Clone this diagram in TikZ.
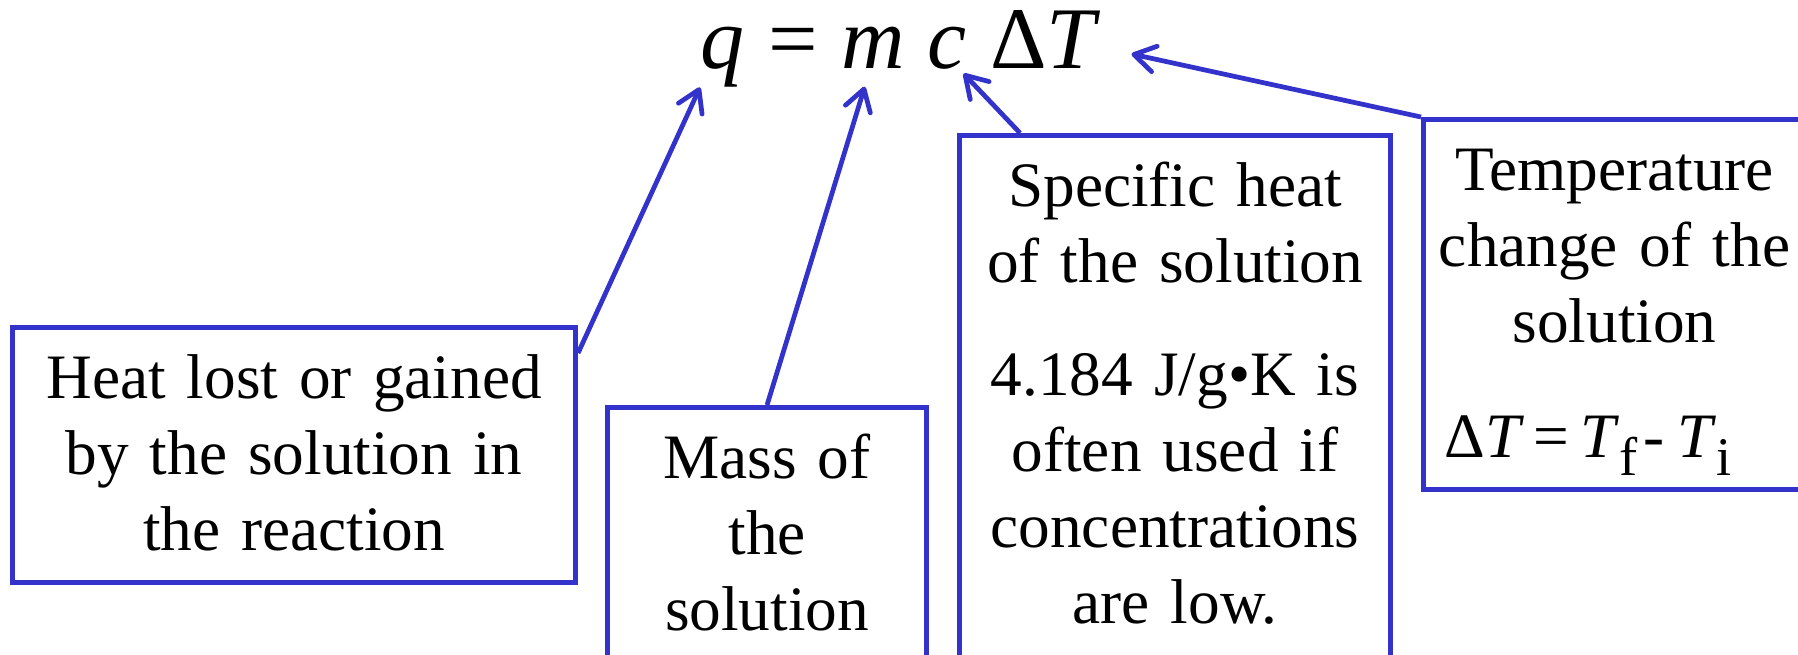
\documentclass[tikz,border=0pt]{standalone}
\usepackage{fontspec}
\setmainfont{Liberation Serif}
\usepackage{tikz}
\usetikzlibrary{positioning, arrows.meta}
\definecolor{calBlue}{HTML}{3333CC}
\newcommand{\lowsub}[1]{\raisebox{-0.28em}{\fontsize{15.5}{15.5}\selectfont #1}}

\begin{document}
\begin{tikzpicture}[node distance=2.2mm]
    \tikzset{box/.style={draw=calBlue,line width=1.45pt,inner sep=0pt,align=center,text height=7.1mm,font=\fontsize{18}{21.6}\selectfont}, eqn/.style={inner sep=0pt,font=\fontsize{25}{30}\selectfont}, pointer/.style={draw=calBlue,line width=1.35pt,-{Straight Barb[length=2.1mm,width=2.6mm,round]}}}
    \useasboundingbox (0,0) rectangle (17.98,6.54);
    \node[eqn,anchor=base west] (q) at (7.00,5.86) {\textit{q}};
    \node[eqn,base right=of q] (eq) {=};
    \node[eqn,base right=of eq] (m) {\textit{m}};
    \node[eqn,base right=of m] (c) {\textit{c}};
    \node[eqn,base right=of c] (dT) {Δ\textit{T}};
    \node[box,anchor=north west,text width=5.63cm,text depth=18.4mm] (heat) at (0.10,3.29) {Heat lost or gained\\by the solution in\\the reaction};
    \node[box,anchor=north west,text width=3.19cm,text depth=25mm] (mass) at (6.05,2.49) {Mass of\\the\\solution};
    \node[box,anchor=north west,text width=4.31cm,text depth=50mm] (spec) at (9.57,5.21) {Specific heat\\of the solution\\[3.7mm]4.184 J/g•K is\\often used if\\concentrations\\are low.};
    \node[box,anchor=north west,text width=3.82cm,text depth=29.9mm] (temp) at (14.21,5.37) {Temperature\\change of the\\solution\\[3.9mm]\makebox[\linewidth][l]{\hspace{2.1mm}Δ\textit{T}\hspace{0.14em}=\hspace{0.18em}\textit{T}\lowsub{f}\hspace{0.1em}-\hspace{0.2em}\textit{T}\lowsub{i}}};
    \draw[pointer] ([yshift=-2.8mm]heat.north east) -- (q.south west);
    \draw[pointer] (mass.north) -- ([shift={(-0.08,-0.18)}]m.south);
    \draw[pointer] ([xshift=6.3mm]spec.north west) -- ([shift={(-0.04,-0.04)}]c.south east);
    \draw[pointer] (temp.north west) -- ([shift={(0.30,-0.15)}]dT.east);
  \end{tikzpicture}
\end{document}
